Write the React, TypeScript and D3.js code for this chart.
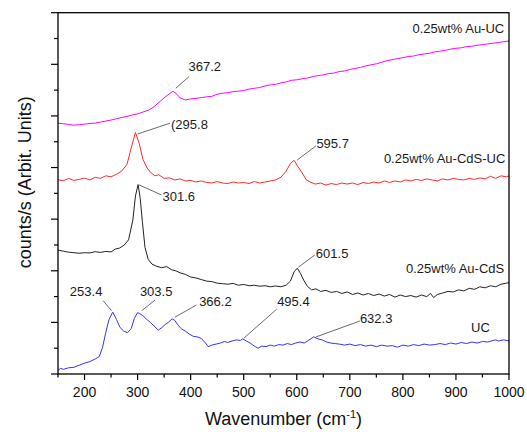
import React from 'react'
import * as d3 from 'd3'

// Raman spectra, wavenumber (cm-1) vs counts, already offset for stacking
const auUC: [number, number][] = [
  [150, 4860], [160, 4850], [170, 4835], [180, 4820], [190, 4830], [200, 4840], [210, 4855], [220, 4860],
  [230, 4880], [240, 4900], [250, 4920], [260, 4945], [270, 4970], [280, 4990], [290, 5020], [300, 5040],
  [310, 5075], [320, 5110], [330, 5170], [340, 5260], [350, 5350], [360, 5430], [367, 5480], [374, 5420],
  [380, 5350], [390, 5310], [400, 5330], [410, 5340], [420, 5355], [430, 5370], [440, 5380], [450, 5420],
  [460, 5440], [470, 5450], [480, 5470], [490, 5480], [500, 5490], [510, 5520], [520, 5535], [530, 5550],
  [540, 5580], [550, 5600], [560, 5610], [570, 5640], [580, 5660], [590, 5690], [600, 5700], [610, 5720],
  [620, 5735], [630, 5760], [640, 5780], [650, 5795], [660, 5820], [670, 5830], [680, 5860], [690, 5870],
  [700, 5900], [710, 5920], [720, 5940], [730, 5970], [740, 5990], [750, 6010], [760, 6040], [770, 6070],
  [780, 6090], [790, 6110], [800, 6130], [810, 6150], [820, 6160], [830, 6185], [840, 6200], [850, 6215],
  [860, 6240], [870, 6255], [880, 6270], [890, 6295], [900, 6310], [910, 6320], [920, 6345], [930, 6350],
  [940, 6370], [950, 6380], [960, 6395], [970, 6410], [980, 6420], [990, 6440], [1000, 6450]
]

const auCdsUC: [number, number][] = [
  [150, 3760], [160, 3745], [170, 3790], [180, 3750], [190, 3770], [200, 3795], [210, 3760], [220, 3810],
  [230, 3790], [240, 3840], [250, 3820], [260, 3870], [270, 3930], [280, 4060], [288, 4380], [296, 4680],
  [303, 4470], [310, 4160], [318, 3990], [325, 3900], [333, 3840], [340, 3860], [350, 3790], [360, 3800],
  [370, 3760], [380, 3780], [390, 3740], [400, 3750], [410, 3720], [420, 3740], [430, 3710], [440, 3700],
  [450, 3730], [460, 3700], [470, 3690], [480, 3720], [490, 3700], [500, 3710], [510, 3690], [520, 3730],
  [530, 3700], [540, 3720], [550, 3740], [560, 3760], [570, 3810], [580, 3930], [588, 4080], [595, 4140],
  [602, 4020], [610, 3900], [618, 3760], [625, 3720], [635, 3680], [645, 3700], [655, 3660], [665, 3690],
  [675, 3670], [685, 3700], [695, 3680], [705, 3700], [715, 3670], [725, 3710], [735, 3690], [745, 3720],
  [755, 3700], [765, 3740], [775, 3710], [785, 3740], [795, 3720], [805, 3760], [815, 3740], [825, 3770],
  [835, 3750], [845, 3780], [855, 3760], [865, 3740], [875, 3780], [885, 3760], [895, 3790], [905, 3770],
  [915, 3760], [925, 3790], [935, 3770], [945, 3800], [955, 3780], [965, 3830], [975, 3790], [985, 3840],
  [995, 3820], [1000, 3840]
]

const auCds: [number, number][] = [
  [150, 2400], [160, 2380], [170, 2360], [180, 2350], [190, 2340], [200, 2350], [210, 2345], [220, 2370],
  [230, 2355], [240, 2375], [250, 2365], [258, 2420], [266, 2440], [275, 2500], [283, 2600], [291, 2980],
  [296, 3450], [301, 3670], [305, 3400], [309, 2950], [314, 2450], [320, 2220], [327, 2130], [335, 2090],
  [345, 2060], [355, 2080], [364, 2020], [372, 2000], [380, 1960], [390, 1930], [400, 1880], [410, 1860],
  [420, 1830], [430, 1800], [440, 1790], [450, 1760], [460, 1750], [470, 1740], [480, 1755], [490, 1720],
  [500, 1735], [510, 1710], [520, 1720], [530, 1700], [540, 1710], [550, 1690], [560, 1705], [570, 1690],
  [580, 1720], [588, 1800], [595, 1980], [601, 2050], [607, 1950], [613, 1820], [620, 1700], [628, 1630],
  [636, 1650], [645, 1600], [655, 1620], [665, 1580], [675, 1600], [685, 1560], [695, 1590], [705, 1540],
  [715, 1570], [725, 1530], [735, 1560], [745, 1520], [755, 1550], [765, 1510], [775, 1540], [785, 1490],
  [795, 1530], [805, 1500], [815, 1520], [825, 1490], [835, 1530], [845, 1500], [852, 1560], [858, 1480],
  [865, 1540], [875, 1570], [885, 1600], [895, 1590], [905, 1630], [915, 1610], [925, 1660], [935, 1640],
  [945, 1690], [955, 1670], [965, 1710], [975, 1690], [985, 1740], [995, 1760], [1000, 1770]
]

const uc: [number, number][] = [
  [150, 70], [155, 110], [160, 90], [170, 120], [180, 130], [190, 170], [200, 210], [210, 240],
  [220, 290], [228, 340], [234, 520], [240, 800], [246, 1050], [253, 1200], [260, 1060], [267, 900],
  [274, 830], [281, 800], [288, 880], [294, 1080], [300, 1190], [304, 1170], [310, 1130], [317, 1060],
  [324, 1000], [331, 930], [339, 850], [346, 900], [352, 960], [358, 1000], [365, 1070], [370, 1040],
  [376, 950], [382, 880], [390, 830], [398, 770], [405, 730], [412, 720], [420, 690], [428, 600],
  [433, 530], [440, 560], [448, 580], [456, 600], [464, 630], [470, 610], [478, 640], [486, 660],
  [494, 650], [498, 680], [505, 640], [512, 600], [520, 540], [527, 500], [534, 540], [542, 530],
  [550, 560], [558, 540], [566, 570], [574, 560], [582, 590], [590, 570], [598, 600], [606, 620],
  [614, 600], [622, 650], [632, 720], [640, 680], [648, 660], [656, 620], [664, 600], [672, 590],
  [680, 580], [690, 560], [700, 580], [710, 550], [720, 570], [730, 540], [740, 560], [750, 530],
  [760, 560], [770, 540], [780, 550], [790, 520], [800, 560], [810, 540], [820, 570], [830, 550],
  [840, 580], [850, 560], [860, 570], [870, 590], [880, 570], [890, 600], [900, 580], [910, 610],
  [920, 590], [930, 620], [940, 600], [950, 630], [960, 620], [970, 650], [975, 660], [980, 640],
  [990, 660], [1000, 640]
]

const seriesNames = ['0.25wt% Au-UC', '0.25wt% Au-CdS-UC', '0.25wt% Au-CdS', 'UC']
const seriesColors = ['#ff00ff', '#ff2a2a', '#222222', '#3333ff']
const seriesData = [auUC, auCdsUC, auCds, uc]
// where each series name sits: [wavenumber of right edge, counts]
const seriesLabelPos: [number, number][] = [[991, 6670], [993, 4160], [991, 2030], [964, 886]]

// peak callouts: text, peak point, elbow, text position, anchor
const peakLabels = ['367.2', '(295.8', '595.7', '301.6', '601.5', '253.4', '303.5', '366.2', '495.4', '632.3']
const peakFrom: [number, number][] = [
  [372, 5537], [300, 4650], [601, 4147], [303, 3663], [603, 2068],
  [251, 1227], [308, 1227], [370, 1099], [500, 692], [636, 717]
]
const peakTo: [number, number][] = [
  [397, 5762], [361, 4859], [636, 4419], [345, 3469], [634, 2306],
  [235, 1421], [333, 1434], [411, 1337], [562, 1254], [719, 1027]
]
const peakText: [number, number][] = [
  [396, 5930], [363, 4810], [637, 4452], [347, 3424], [636, 2320],
  [203, 1583], [335, 1583], [416, 1382], [563, 1382], [719, 1047]
]
const peakAnchor = ['start', 'start', 'start', 'start', 'start', 'middle', 'middle', 'start', 'start', 'start']

const xMajor = [200, 300, 400, 500, 600, 700, 800, 900, 1000]
const xMinor = [150, 250, 350, 450, 550, 650, 750, 850, 950]
const yMajor = [0, 1000, 2000, 3000, 4000, 5000, 6000, 7000]
const yMinor = [500, 1500, 2500, 3500, 4500, 5500, 6500]

const W = 527, H = 432
const m = { left: 58, right: 18, top: 12.7, bottom: 58 }
const font = 'Arial, "Liberation Sans", sans-serif'

export default function App() {
  const x = d3.scaleLinear().domain([150, 1000]).range([m.left, W - m.right])
  const y = d3.scaleLinear().domain([0, 7000]).range([H - m.bottom, m.top])
  const line = d3.line<[number, number]>().x(d => x(d[0])).y(d => y(d[1]))
  const x0 = x.range()[0], x1 = x.range()[1]
  const y0 = y.range()[0], y1 = y.range()[1]

  return (
    <svg width={W} height={H} style={{ position: 'absolute', left: 0, top: 0 }} fontFamily={font}>
      <rect width={W} height={H} fill="#fff" />
      {seriesData.map((s, i) =>
        <path key={i} d={line(s) || ''} fill="none" stroke={seriesColors[i]} strokeWidth={1} strokeLinejoin="round" />
      )}
      {seriesNames.map((n, i) =>
        <text key={n} x={x(seriesLabelPos[i][0])} y={y(seriesLabelPos[i][1])} textAnchor="end"
          dominantBaseline="middle" fontSize={13} fill="#1a1a1a">{n}</text>
      )}
      {peakLabels.map((t, i) =>
        <g key={i}>
          <line x1={x(peakFrom[i][0])} y1={y(peakFrom[i][1])} x2={x(peakTo[i][0])} y2={y(peakTo[i][1])}
            stroke="#444" strokeWidth={0.8} />
          <text x={x(peakText[i][0])} y={y(peakText[i][1])} textAnchor={peakAnchor[i] as any}
            dominantBaseline="middle" fontSize={13} fill="#1a1a1a">{t}</text>
        </g>
      )}
      <rect x={x0} y={y1} width={x1 - x0} height={y0 - y1} fill="none" stroke="#000" strokeWidth={1.3} />
      {xMajor.map(v => <line key={'xM' + v} x1={x(v)} x2={x(v)} y1={y0} y2={y0 + 6} stroke="#000" strokeWidth={1.2} />)}
      {xMinor.map(v => <line key={'xm' + v} x1={x(v)} x2={x(v)} y1={y0} y2={y0 + 3.5} stroke="#000" strokeWidth={1.2} />)}
      {xMajor.map(v => <text key={'xt' + v} x={x(v)} y={y0 + 23} textAnchor="middle" fontSize={14} fill="#111">{v}</text>)}
      {yMajor.map(v => <line key={'yM' + v} x1={x0 - 7} x2={x0} y1={y(v)} y2={y(v)} stroke="#000" strokeWidth={1.2} />)}
      {yMinor.map(v => <line key={'ym' + v} x1={x0 - 4} x2={x0} y1={y(v)} y2={y(v)} stroke="#000" strokeWidth={1.2} />)}
      <text x={(x0 + x1) / 2} y={425} textAnchor="middle" fontSize={18} fill="#111">
        Wavenumber (cm<tspan dy={-7} fontSize={11}>-1</tspan><tspan dy={7}>)</tspan>
      </text>
      <text transform={`translate(31, ${(y0 + y1) / 2 - 11}) rotate(-90)`} textAnchor="middle" fontSize={18} fill="#111">
        counts/s (Arbit. Units)
      </text>
    </svg>
  )
}
